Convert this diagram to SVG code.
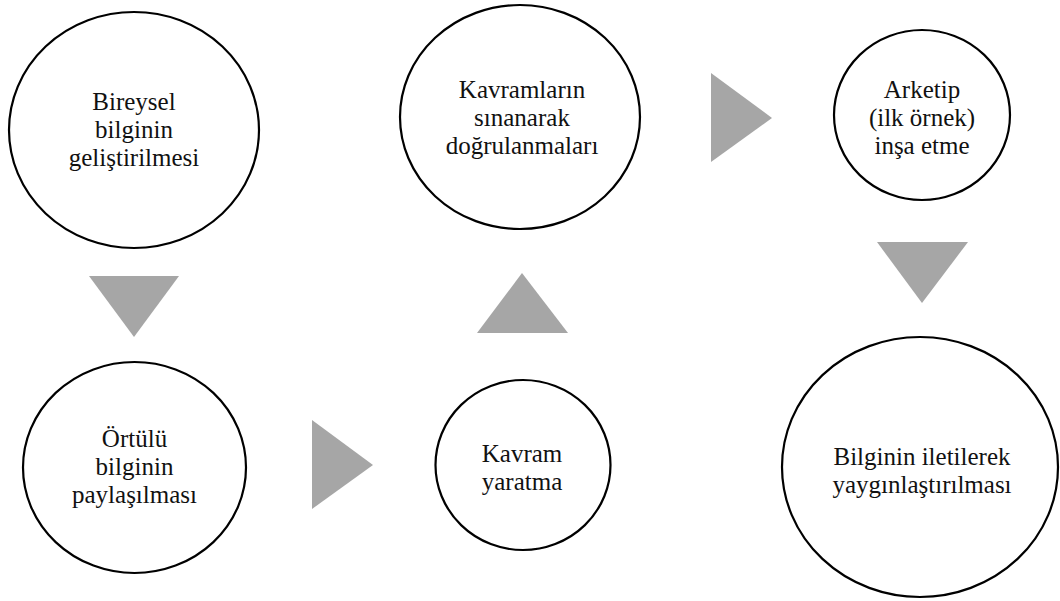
<svg xmlns="http://www.w3.org/2000/svg" width="1060" height="601" viewBox="0 0 1060 601">
  <style type="text/css">
    ellipse { fill: #ffffff; stroke: #000000; stroke-width: 2.2; }
    text { font-family: 'Liberation Serif', 'Times New Roman', serif; font-size: 25px; fill: #111111; text-anchor: middle; }
    polygon { fill: #a6a6a6; stroke: none; }
  </style>
  <rect width="1060" height="601" fill="#ffffff"/>

  <!-- process stages -->
  <g id="bireysel" fill="#ffffff" stroke="#000000" stroke-width="2.2">
    <ellipse cx="134" cy="130" rx="125" ry="118"/>
    <g fill="#111111" stroke="none" font-family="'Liberation Serif', 'Times New Roman', serif" font-size="25" text-anchor="middle">
      <text x="134" y="110">Bireysel</text>
      <text x="134" y="138">bilginin</text>
      <text x="134" y="166">geliştirilmesi</text>
    </g>
  </g>
  <g id="ortulu" fill="#ffffff" stroke="#000000" stroke-width="2.2">
    <ellipse cx="134.5" cy="467.5" rx="111.5" ry="105.5"/>
    <g fill="#111111" stroke="none" font-family="'Liberation Serif', 'Times New Roman', serif" font-size="25" text-anchor="middle">
      <text x="134.5" y="447">Örtülü</text>
      <text x="134.5" y="475">bilginin</text>
      <text x="134.5" y="503">paylaşılması</text>
    </g>
  </g>
  <g id="kavram-yaratma" fill="#ffffff" stroke="#000000" stroke-width="2.2">
    <ellipse cx="523" cy="465" rx="87.5" ry="85"/>
    <g fill="#111111" stroke="none" font-family="'Liberation Serif', 'Times New Roman', serif" font-size="25" text-anchor="middle">
      <text x="522" y="462">Kavram</text>
      <text x="522" y="490">yaratma</text>
    </g>
  </g>
  <g id="kavram-sinama" fill="#ffffff" stroke="#000000" stroke-width="2.2">
    <ellipse cx="520" cy="117" rx="120" ry="112"/>
    <g fill="#111111" stroke="none" font-family="'Liberation Serif', 'Times New Roman', serif" font-size="25" text-anchor="middle">
      <text x="522" y="98">Kavramların</text>
      <text x="522" y="126">sınanarak</text>
      <text x="522" y="154">doğrulanmaları</text>
    </g>
  </g>
  <g id="arketip" fill="#ffffff" stroke="#000000" stroke-width="2.2">
    <ellipse cx="922" cy="115" rx="88" ry="85"/>
    <g fill="#111111" stroke="none" font-family="'Liberation Serif', 'Times New Roman', serif" font-size="25" text-anchor="middle">
      <text x="922" y="98">Arketip</text>
      <text x="922" y="126">(ilk örnek)</text>
      <text x="922" y="154">inşa etme</text>
    </g>
  </g>
  <g id="yayginlastirma" fill="#ffffff" stroke="#000000" stroke-width="2.2">
    <ellipse cx="920" cy="467" rx="138" ry="130"/>
    <g fill="#111111" stroke="none" font-family="'Liberation Serif', 'Times New Roman', serif" font-size="25" text-anchor="middle">
      <text x="922" y="465">Bilginin iletilerek</text>
      <text x="922" y="493">yaygınlaştırılması</text>
    </g>
  </g>

  <!-- flow arrows -->
  <g id="connectors" fill="#a6a6a6" stroke="none">
    <polygon points="89,276 179,276 134,337"/>
    <polygon points="312,420 312,509 373,465"/>
    <polygon points="477,333 568,333 522,273"/>
    <polygon points="711,73 711,162 772,118"/>
    <polygon points="877,242 968,242 922,303"/>
  </g>
</svg>
